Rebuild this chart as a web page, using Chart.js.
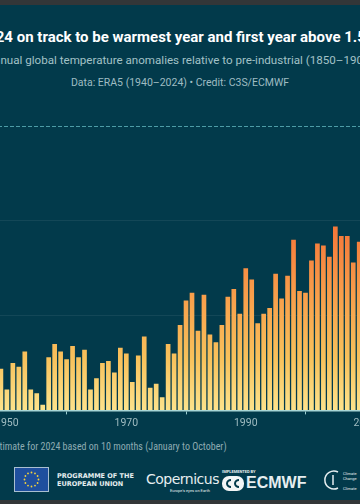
<!DOCTYPE html>
<html>
<head>
<meta charset="utf-8">
<script src="https://cdn.jsdelivr.net/npm/chart.js@4.4.1/dist/chart.umd.min.js"></script>
<style>
  html, body { margin: 0; padding: 0; }
  body {
    width: 360px; height: 504px; overflow: hidden; position: relative;
    background: #023a4b;
    font-family: Roboto, sans-serif;
  }
  .strip { position: absolute; left: 0; width: 360px; background: #333638; }
  .centered { position: absolute; left: -100px; width: 560px; text-align: center; white-space: nowrap; }
  #title { top: 28px; font-size: 15px; font-weight: bold; color: #ffffff; }
  #subtitle { top: 53px; font-size: 11.6px; color: #a3c2c7; }
  #source { top: 76px; font-size: 10.5px; color: #9fbcc2; }
  #chartBox { position: absolute; left: -20px; top: 107px; width: 400px; height: 326px; }
  #note { position: absolute; left: -10px; top: 441px; font-size: 10px; color: #8eacb2; white-space: nowrap;
          font-family: "Roboto Condensed", Roboto, sans-serif; }
  .logo { position: absolute; color: #e6eef0; white-space: nowrap; }
</style>
</head>
<body>
<div class="strip" style="top:0;height:5px"></div>
<div class="centered" id="title">2024 on track to be warmest year and first year above 1.5°C</div>
<div class="centered" id="subtitle">Annual global temperature anomalies relative to pre-industrial (1850–1900)</div>
<div class="centered" id="source">Data: ERA5 (1940–2024) • Credit: C3S/ECMWF</div>
<div id="chartBox"><canvas id="tempChart"></canvas></div>
<div id="note">Estimate for 2024 based on 10 months (January to October)</div>

<!-- logo row -->
<svg class="logo" style="left:14px;top:467px" width="35" height="25" viewBox="0 0 35 25">
  <rect x="0.5" y="0.5" width="34" height="24" fill="#1f4f9e" stroke="#a9bfd0"/>
  <g fill="#f4d23c">
    <circle cx="17.5" cy="5.5" r="0.9"/><circle cx="21" cy="6.4" r="0.9"/><circle cx="23.6" cy="9" r="0.9"/>
    <circle cx="24.5" cy="12.5" r="0.9"/><circle cx="23.6" cy="16" r="0.9"/><circle cx="21" cy="18.6" r="0.9"/>
    <circle cx="17.5" cy="19.5" r="0.9"/><circle cx="14" cy="18.6" r="0.9"/><circle cx="11.4" cy="16" r="0.9"/>
    <circle cx="10.5" cy="12.5" r="0.9"/><circle cx="11.4" cy="9" r="0.9"/><circle cx="14" cy="6.4" r="0.9"/>
  </g>
</svg>
<div class="logo" style="left:57px;top:472px;font-size:6.5px;font-weight:bold;line-height:8px;font-family:'DejaVu Sans',sans-serif">PROGRAMME OF THE<br>EUROPEAN UNION</div>
<div class="logo" style="left:146px;top:471px;font-size:14px;font-family:'DejaVu Sans',sans-serif;letter-spacing:-0.5px">Copernicus</div>
<div class="logo" style="left:170px;top:488px;font-size:4px">Europe's eyes on Earth</div>
<div class="logo" style="left:222px;top:469px;font-size:4px;font-weight:bold">IMPLEMENTED BY</div>
<svg class="logo" style="left:222px;top:476px" width="22" height="15" viewBox="0 0 22 15">
  <rect x="0" y="0" width="22" height="15" rx="7" fill="#f2f5f6"/>
  <path d="M9 4 A4 3.5 0 1 0 9 11" stroke="#023a4b" stroke-width="2" fill="none"/>
  <path d="M17 4 A4 3.5 0 1 0 17 11" stroke="#023a4b" stroke-width="2" fill="none"/>
</svg>
<div class="logo" style="left:246px;top:474px;font-size:16px;font-weight:bold;font-family:'Liberation Sans',sans-serif">ECMWF</div>
<svg class="logo" style="left:323px;top:469px" width="20" height="22" viewBox="0 0 20 22">
  <path d="M15 3 A9 9 0 1 0 15 19" stroke="#e6eef0" stroke-width="1.5" fill="none"/>
  <path d="M10 6 L10 16" stroke="#e6eef0" stroke-width="1.5"/>
</svg>
<div class="logo" style="left:343px;top:471px;font-size:4px;line-height:5px">Climate<br>Change<br><br>Climate</div>
<div class="strip" style="top:500px;height:4px"></div>

<script>
// values (°C above 1850-1900), visible years only
const years = [1949, 1950, 1951, 1952, 1953, 1954, 1955, 1956, 1957, 1958,
               1959, 1960, 1961, 1962, 1963, 1964, 1965, 1966, 1967, 1968,
               1969, 1970, 1971, 1972, 1973, 1974, 1975, 1976, 1977, 1978,
               1979, 1980, 1981, 1982, 1983, 1984, 1985, 1986, 1987, 1988,
               1989, 1990, 1991, 1992, 1993, 1994, 1995, 1996, 1997, 1998,
               1999, 2000, 2001, 2002, 2003, 2004, 2005, 2006, 2007, 2008, 2009];
const anomalies = [0.22, 0.11, 0.25, 0.23, 0.31, 0.11, 0.09, 0.03, 0.28, 0.35,
                   0.31, 0.27, 0.34, 0.28, 0.32, 0.11, 0.17, 0.25, 0.26, 0.20,
                   0.33, 0.30, 0.15, 0.29, 0.39, 0.12, 0.14, 0.07, 0.35, 0.30,
                   0.45, 0.58, 0.62, 0.42, 0.61, 0.40, 0.36, 0.45, 0.60, 0.64,
                   0.51, 0.75, 0.69, 0.46, 0.51, 0.54, 0.72, 0.59, 0.71, 0.90,
                   0.63, 0.62, 0.79, 0.88, 0.87, 0.81, 0.97, 0.92, 0.92, 0.78, 0.89];
const tickYears = [1950, 1970, 1990, 2010];
const threshold = 1.5;

// dashed 1.5°C reference line
const thresholdLine = {
    id: 'thresholdLine',
    beforeDatasetsDraw(chart) {
        const ctx = chart.ctx;
        const area = chart.chartArea;
        const y = Math.round(chart.scales.y.getPixelForValue(threshold)) + 0.5;
        ctx.save();
        ctx.strokeStyle = '#4d9ca6';
        ctx.lineWidth = 1;
        ctx.setLineDash([4, 2]);
        ctx.beginPath();
        ctx.moveTo(area.left, y);
        ctx.lineTo(area.right, y);
        ctx.stroke();
        ctx.restore();
    }
};

function barGradient(context) {
    const chart = context.chart;
    if (!chart.chartArea) return '#f9c25b';
    const yScale = chart.scales.y;
    const g = chart.ctx.createLinearGradient(0, yScale.getPixelForValue(0), 0, yScale.getPixelForValue(1.5));
    g.addColorStop(0, '#fde38c');
    g.addColorStop(0.18, '#f8c25c');
    g.addColorStop(0.4, '#f89f4b');
    g.addColorStop(0.65, '#f47639');
    g.addColorStop(1, '#e5482e');
    return g;
}

const ctx = document.getElementById('tempChart').getContext('2d');
const tempChart = new Chart(ctx, {
    type: 'bar',
    data: {
        datasets: [{
            data: years.map((yr, i) => ({ x: yr, y: anomalies[i] })),
            backgroundColor: barGradient,
            borderWidth: 0,
            barPercentage: 0.8,
            categoryPercentage: 0.98
        }]
    },
    options: {
        responsive: true,
        maintainAspectRatio: false,
        animation: false,
        layout: { padding: 0 },
        scales: {
            x: {
                type: 'linear',
                offset: false,
                min: 1945.5,
                max: 2012.1667,
                afterBuildTicks: function(axis) {
                    axis.ticks = tickYears.map(v => ({ value: v }));
                },
                grid: {
                    drawOnChartArea: false,
                    drawTicks: true,
                    tickLength: 4,
                    tickColor: '#9ccfd1'
                },
                border: { display: true, color: '#a9d6d6', width: 1.5 },
                ticks: {
                    autoSkip: false,
                    maxRotation: 0,
                    padding: 3,
                    color: '#a0bcc1',
                    font: { size: 10.5, family: 'Roboto, sans-serif' },
                    callback: function(value) {
                        return String(value);
                    }
                }
            },
            y: {
                min: 0,
                max: 1.6,
                ticks: { display: false, stepSize: 0.5 },
                border: { display: false },
                grid: {
                    drawTicks: false,
                    color: function(c) {
                        const v = c.tick.value;
                        if (v === 0.5 || v === 1) {
                            return 'rgba(255, 255, 255, 0.07)';
                        }
                        return 'rgba(0, 0, 0, 0)';
                    }
                }
            }
        },
        plugins: {
            legend: { display: false },
            tooltip: { enabled: false }
        }
    },
    plugins: [thresholdLine]
});
</script>
</body>
</html>
